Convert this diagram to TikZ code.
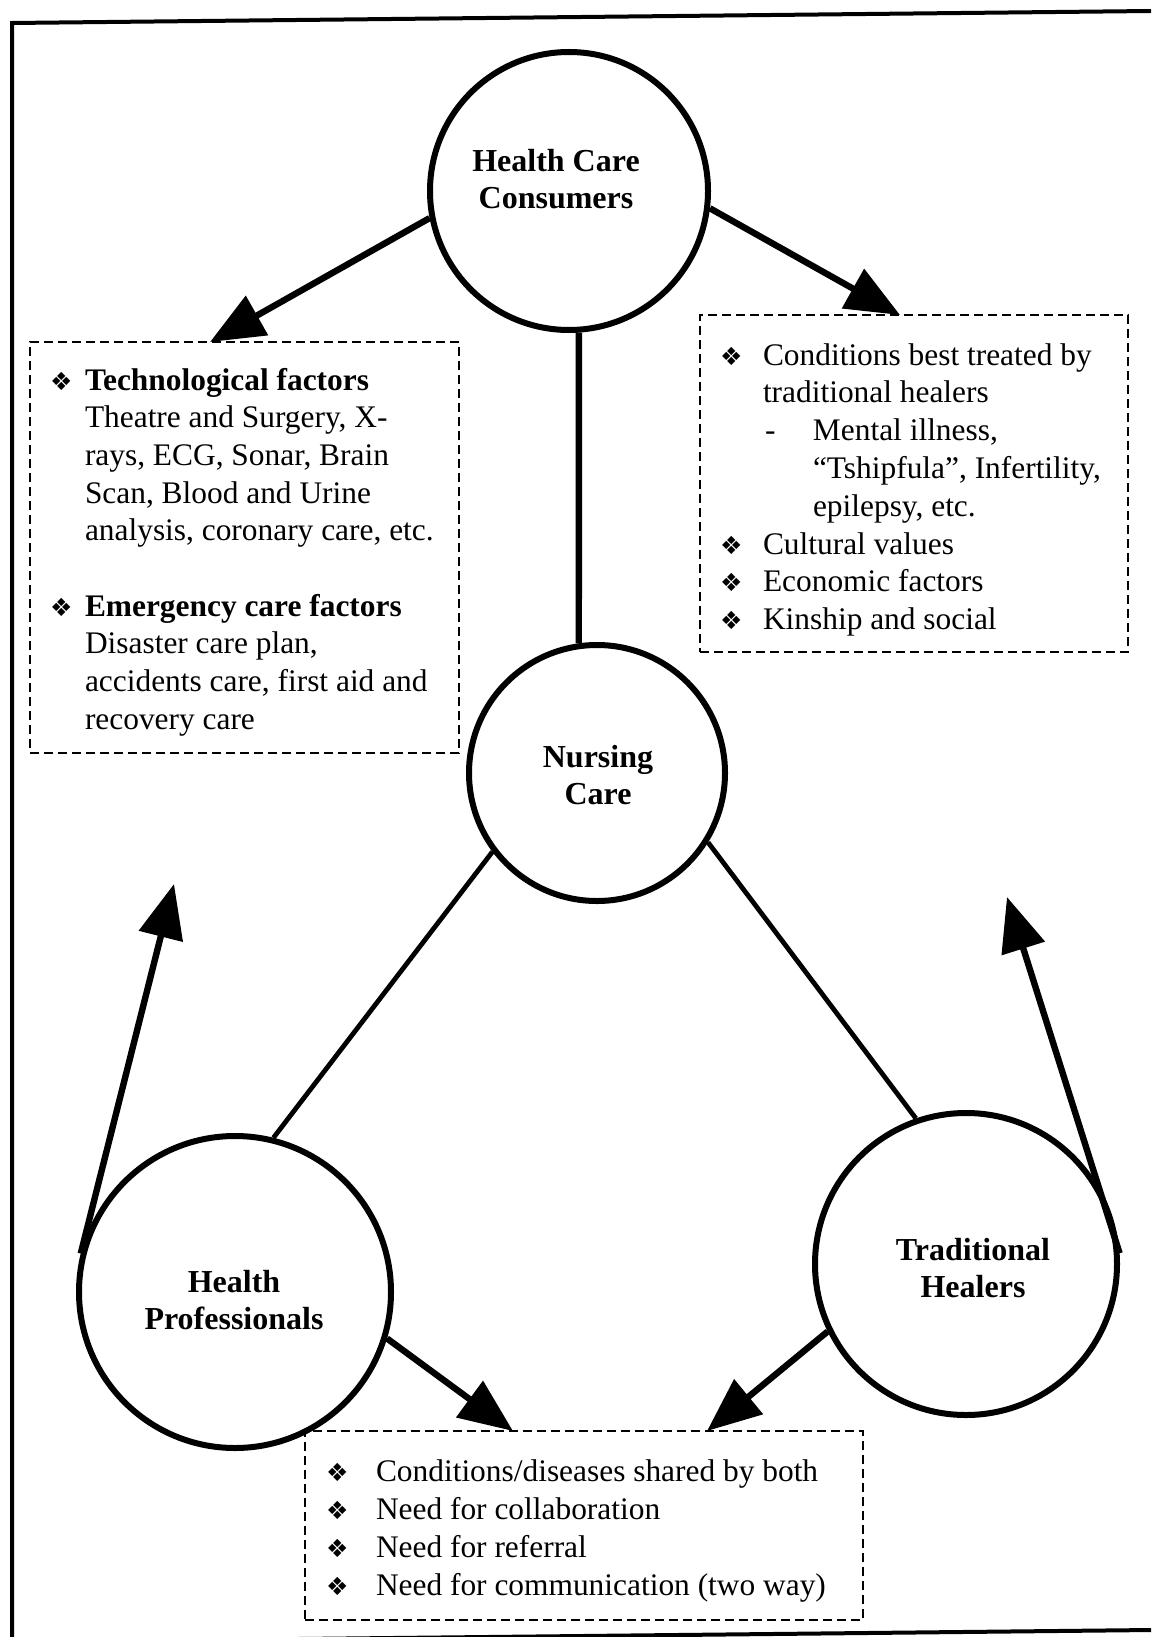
\documentclass[tikz,border=0pt]{standalone}
\usepackage{fontspec}
\setmainfont{Liberation Serif}
\newfontfamily\dejavu{DejaVu Sans}
\usetikzlibrary{arrows.meta}
\newcommand{\bulsym}{{\dejavu\fontsize{12.5}{12.5}\selectfont ❖}}
\newcommand{\ctrline}[1]{\hbox to 0pt{\hss#1\hss}}
\tikzset{
  frameline/.style={line width=2pt},
  bubble/.style={circle, draw, line width=3pt, inner sep=0pt},
  dashbox/.style={rectangle, draw, dashed, line width=0.75pt, dash pattern=on 4.5pt off 2.5pt, inner sep=0pt},
  txt/.style={inner sep=0pt, outer sep=0pt, anchor=base west, font=\fontsize{15.7}{18.9}\selectfont},
  lbl/.style={inner sep=0pt, outer sep=0pt, anchor=base, font=\fontsize{16}{18.5}\selectfont\bfseries},
  arr/.style={line width=3.2pt, -{Triangle[length=27pt,width=22pt]}},
  link/.style={line width=2.4pt},
  stem/.style={line width=3.2pt}
}
\begin{document}
\begin{tikzpicture}[x=0.5pt,y=-0.5pt]
\useasboundingbox (0,0) rectangle (1151,1637);
% frame
\draw[frameline] (1151,11) -- (12,23) -- (12,1645);
\draw[frameline] (12,1642) -- (1151,1630);

% circles
\node[bubble, minimum size=139pt] (hcc) at (569,191) {};
\node[bubble, minimum size=128pt] (nc) at (597,773) {};
\node[bubble, minimum size=156pt] (hp) at (235,1292) {};
\node[bubble, minimum size=151pt] (th) at (966,1264) {};

% circle labels
\node[lbl] (hccl) at (556,172) {\vtop{\baselineskip=18.5pt\ctrline{Health Care}\ctrline{Consumers}}};
\node[lbl] (ncl) at (598,767) {\vtop{\baselineskip=18.5pt\ctrline{Nursing}\ctrline{Care}}};
\node[lbl] (hpl) at (234,1292) {\vtop{\baselineskip=18.5pt\ctrline{Health}\ctrline{Professionals}}};
\node[lbl] (thl) at (973,1260) {\vtop{\baselineskip=18.5pt\ctrline{Traditional}\ctrline{Healers}}};

% dashed boxes
\node[dashbox, minimum width=214.5pt, minimum height=205.5pt] (lbox) at (244.5,547.5) {};
\node[dashbox, minimum width=214pt, minimum height=168.5pt] (rbox) at (914,483.5) {};
\node[dashbox, minimum width=279pt, minimum height=94.5pt] (bbox) at (584,1525.5) {};

% box texts
\node[txt] (ltext) at (50,390) {\vtop{\baselineskip=18.85pt
\hbox{\hbox to 17.5pt{\bulsym\hss}\textbf{Technological factors}}
\hbox{\hskip17.5pt Theatre and Surgery, X-}
\hbox{\hskip17.5pt rays, ECG, Sonar, Brain}
\hbox{\hskip17.5pt Scan, Blood and Urine}
\hbox{\hskip17.5pt analysis, coronary care, etc.}
\hbox{}
\hbox{\hbox to 17.5pt{\bulsym\hss}\textbf{Emergency care factors}}
\hbox{\hskip17.5pt Disaster care plan,}
\hbox{\hskip17.5pt accidents care, first aid and}
\hbox{\hskip17.5pt recovery care}}};

\node[txt] (rtext) at (720,365) {\vtop{\baselineskip=18.9pt
\hbox{\hbox to 21.5pt{\bulsym\hss}Conditions best treated by}
\hbox{\hskip21.5pt traditional healers}
\hbox{\hskip22.5pt\hbox to 24pt{-\hss}Mental illness,}
\hbox{\hskip46.5pt “Tshipfula”, Infertility,}
\hbox{\hskip46.5pt epilepsy, etc.}
\hbox{\hbox to 21.5pt{\bulsym\hss}Cultural values}
\hbox{\hbox to 21.5pt{\bulsym\hss}Economic factors}
\hbox{\hbox to 21.5pt{\bulsym\hss}Kinship and social}}};

\node[txt] (btext) at (326,1481) {\vtop{\baselineskip=19pt
\hbox{\hbox to 25pt{\bulsym\hss}Conditions/diseases shared by both}
\hbox{\hbox to 25pt{\bulsym\hss}Need for collaboration}
\hbox{\hbox to 25pt{\bulsym\hss}Need for referral}
\hbox{\hbox to 25pt{\bulsym\hss}Need for communication (two way)}}};

% arrow targets
\coordinate (lt) at (210,342);
\coordinate (rt) at (900,315);
\coordinate (bl) at (513,1431);
\coordinate (br) at (707,1431);
\coordinate (hpup) at (174,884);
\coordinate (thup) at (1007,897);

% connectors
\draw[arr] (hcc.191) -- (lt);
\draw[arr] (hcc.-7) -- (rt);
\draw[stem] (hcc.-86) -- (nc.98);
\draw[link] (nc.217) -- (hp.76);
\draw[link] (nc.-32) -- (th.109);
\draw[arr] (hp.166) -- (hpup);
\draw[arr] (th.4) -- (thup);
\draw[arr] (hp.-17) -- (bl);
\draw[arr] (th.206) -- (br);
\end{tikzpicture}
\end{document}
